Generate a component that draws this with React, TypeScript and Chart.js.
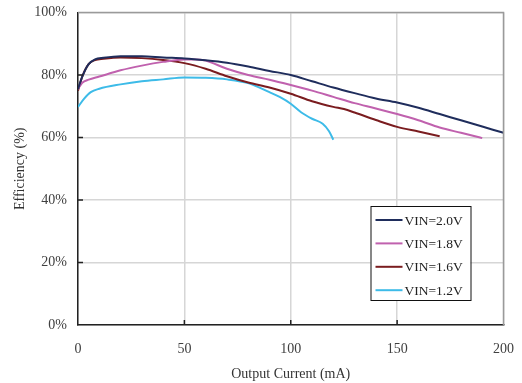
import React, { useEffect, useRef } from "react";
import Chart from "chart.js/auto";

const xVin20 = [0, 2, 5, 8, 12, 20, 30, 40, 50, 60, 70, 80, 90, 100, 110, 120, 130, 140, 150, 160, 170, 180, 190, 200];
const effVin20 = [75.5, 79.5, 83.5, 85, 85.5, 86, 86, 85.6, 85.3, 84.7, 83.9, 82.7, 81.3, 80, 78, 76, 74.2, 72.5, 71.2, 69.5, 67.5, 65.5, 63.5, 61.5];

const xVin18 = [0, 2, 5, 10, 20, 30, 40, 50, 55, 60, 70, 80, 90, 100, 110, 120, 130, 140, 150, 160, 170, 180, 190];
const effVin18 = [75.5, 77.5, 78.5, 79.5, 81.5, 83, 84.2, 85, 85, 84.6, 82, 80, 78.5, 76.8, 75, 73, 71, 69.3, 67.5, 65.5, 63.2, 61.5, 59.8];

const xVin16 = [0, 2, 5, 8, 12, 20, 30, 40, 50, 60, 70, 80, 90, 100, 110, 120, 125, 130, 140, 150, 160, 170];
const effVin16 = [75, 79.5, 83.5, 84.8, 85.2, 85.6, 85.4, 84.8, 83.8, 82, 79.6, 77.6, 76, 74, 71.6, 69.8, 69.1, 68, 65.6, 63.4, 61.9, 60.4];

const xVin12 = [0, 3, 6, 10, 20, 30, 40, 50, 60, 70, 80, 90, 95, 100, 105, 110, 115, 118, 120];
const effVin12 = [69.8, 72.5, 74.5, 75.6, 77, 78, 78.6, 79.2, 79.1, 78.6, 77.4, 74.5, 72.9, 70.8, 68, 66, 64.4, 62, 59.3];

const seriesLabels = ["VIN=2.0V", "VIN=1.8V", "VIN=1.6V", "VIN=1.2V"];
const seriesColors = ["#1f2d5c", "#c061ae", "#7a1c1f", "#3dbbe8"];

const xTitle = "Output Current (mA)";
const yTitle = "Efficiency (%)";

const FONT = "'Liberation Serif', 'DejaVu Serif', serif";

function pts(xs: number[], ys: number[]) {
  return xs.map((x, i) => ({ x, y: ys[i] }));
}

const framePlugin = {
  id: "frame",
  afterDraw(chart: any) {
    const { ctx, chartArea } = chart;
    const xs = chart.scales.x;
    const ys = chart.scales.y;
    ctx.save();
    ctx.strokeStyle = "#9a9a9a";
    ctx.lineWidth = 1.5;
    ctx.beginPath();
    ctx.moveTo(chartArea.left, chartArea.top);
    ctx.lineTo(chartArea.right, chartArea.top);
    ctx.lineTo(chartArea.right, chartArea.bottom);
    ctx.stroke();
    ctx.strokeStyle = "#222";
    ctx.lineWidth = 1.5;
    ctx.beginPath();
    [20, 40, 60, 80].forEach((v) => {
      const y = ys.getPixelForValue(v);
      ctx.moveTo(chartArea.left, y);
      ctx.lineTo(chartArea.left + 5, y);
    });
    [50, 100, 150].forEach((v) => {
      const x = xs.getPixelForValue(v);
      ctx.moveTo(x, chartArea.bottom);
      ctx.lineTo(x, chartArea.bottom - 5);
    });
    ctx.stroke();

    const boxL = chartArea.right - 133;
    const boxT = chartArea.bottom - 119;
    const boxW = 100;
    const boxH = 94;
    ctx.fillStyle = "#fff";
    ctx.fillRect(boxL, boxT, boxW, boxH);
    ctx.strokeStyle = "#111";
    ctx.lineWidth = 1;
    ctx.strokeRect(boxL + 0.5, boxT + 0.5, boxW, boxH);
    ctx.font = `13.5px ${FONT}`;
    ctx.textBaseline = "middle";
    ctx.textAlign = "left";
    chart.data.datasets.forEach((ds: any, i: number) => {
      const y = boxT + 14 + i * 23.4;
      ctx.strokeStyle = ds.borderColor;
      ctx.lineWidth = 2;
      ctx.beginPath();
      ctx.moveTo(boxL + 5, y);
      ctx.lineTo(boxL + 32, y);
      ctx.stroke();
      ctx.fillStyle = "#222";
      ctx.fillText(ds.label, boxL + 34, y + 1);
    });
    ctx.restore();
  },
};

export default function App() {
  const ref = useRef<HTMLCanvasElement>(null);
  useEffect(() => {
    if (!ref.current) return;
    const seriesX = [xVin20, xVin18, xVin16, xVin12];
    const seriesY = [effVin20, effVin18, effVin16, effVin12];
    const chart = new Chart(ref.current, {
      type: "line",
      data: {
        datasets: seriesLabels.map((label, i) => ({
          label,
          data: pts(seriesX[i], seriesY[i]),
          borderColor: seriesColors[i],
          backgroundColor: seriesColors[i],
          borderWidth: 2,
          pointRadius: 0,
          tension: 0.3,
          cubicInterpolationMode: "monotone" as const,
          fill: false,
        })),
      },
      options: {
        responsive: false,
        animation: false,
        devicePixelRatio: 1,
        layout: { padding: { top: 12.5, right: 18.5, left: 0, bottom: 0 } },
        plugins: {
          legend: { display: false },
          tooltip: { enabled: false },
        },
        scales: {
          x: {
            type: "linear",
            min: 0,
            max: 200,
            ticks: {
              stepSize: 50,
              padding: 16,
              color: "#404040",
              font: { family: FONT, size: 14 },
              maxRotation: 0,
            },
            grid: { color: "#d6d6d6", lineWidth: 1.5, drawTicks: false },
            border: { display: true, color: "#222", width: 1.5 },
            title: {
              display: true,
              text: xTitle,
              color: "#333",
              font: { family: FONT, size: 14 },
              padding: { top: 2, bottom: 0 },
            },
            afterFit: (s: any) => {
              s.height = 58;
              s.paddingLeft = 0;
              s.paddingRight = 0;
            },
          },
          y: {
            type: "linear",
            min: 0,
            max: 100,
            ticks: {
              stepSize: 20,
              padding: 11,
              color: "#404040",
              font: { family: FONT, size: 14 },
              callback: (v: any) => `${v}%`,
            },
            grid: { color: "#d6d6d6", lineWidth: 1.5, drawTicks: false },
            border: { display: true, color: "#222", width: 1.5 },
            title: {
              display: true,
              text: yTitle,
              color: "#333",
              font: { family: FONT, size: 14 },
              padding: { top: 11.6, bottom: 0 },
            },
            afterFit: (s: any) => {
              s.width = 78;
              s.paddingTop = 0;
              s.paddingBottom = 0;
            },
          },
        },
      },
      plugins: [framePlugin],
    });
    return () => chart.destroy();
  }, []);
  return (
    <div style={{ position: "absolute", left: 0, top: 0, width: 522, height: 383, background: "#fff" }}>
      <canvas ref={ref} width={522} height={383} style={{ display: "block" }} />
    </div>
  );
}
